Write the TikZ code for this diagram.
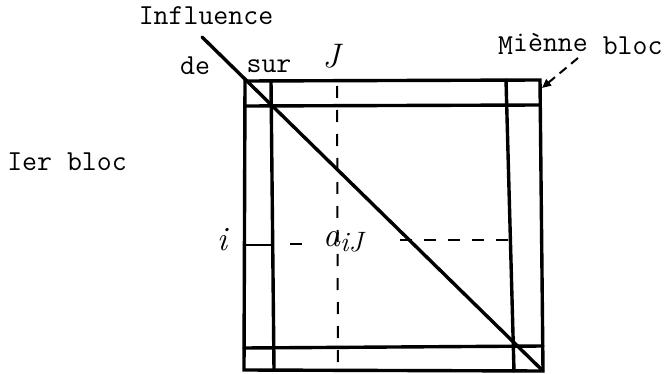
\documentclass[tikz,border=0pt]{standalone}
\usepackage{fontspec}
\usetikzlibrary{arrows.meta}
\begin{document}
\begin{tikzpicture}[x=1pt,y=-1pt,
  thick line/.style={line width=3.4pt, line cap=round},
  dash line/.style={line width=2pt, dash pattern=on 12pt off 12pt},
  lbl/.style={font=\fontsize{29}{32}\selectfont\ttfamily, inner sep=1pt},
  hand/.style={font=\fontsize{34}{38}\selectfont\itshape, inner sep=1pt}]
\useasboundingbox (0,0) rectangle (671,374);
% box coordinates
\coordinate (TL) at (245,81);
\coordinate (TR) at (540,80);
\coordinate (BL) at (244,370);
\coordinate (BR) at (543,371);
% outer square
\draw[thick line] (TL) -- (TR) -- (BR) -- (BL) -- cycle;
% inner block lines
\draw[thick line] (271,81) -- (274,370);
\draw[thick line] (506,80) -- (514,371);
\draw[thick line] (245,106) -- (540,105);
\draw[thick line] (244,348) -- (543,346);
% diagonal
\coordinate (D0) at (202,37);
\draw[thick line] (D0) -- (BR);
% dashed guides
\draw[dash line] (337,86) -- (338,364);
\draw[thick line, line width=2.2pt] (245,245) -- (272,245);
\draw[dash line] (290,244) -- (310,244);
\draw[dash line] (400,240) -- (508,240);
% labels
\node[lbl] (infl) at (206,16) {Influence};
\node[lbl] (de) at (195,66) {de};
\node[lbl] (sur) at (269,66) {sur};
\node[hand] (J) at (331,56) {J};
\node[lbl] (ier) at (67,162) {Ier bloc};
\node[hand] (i) at (222,240) {i};
\node[hand, anchor=west] (aij) at (322,242) {a\raisebox{-0.35ex}{\fontsize{28}{32}\selectfont iJ}};
\node[lbl, anchor=west] (mb) at (497,44) {M\raisebox{0.3ex}{iènne}~bloc};
\coordinate (mbtip) at (542,88);
\draw[line width=2pt, dash pattern=on 9pt off 6pt, -{Triangle[length=9pt,width=8pt]}] (578,58) -- (mbtip);
\end{tikzpicture}
\end{document}
